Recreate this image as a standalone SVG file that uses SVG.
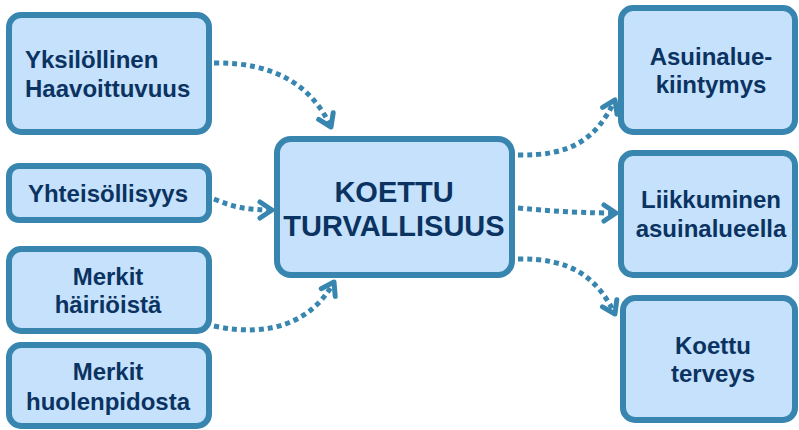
<svg xmlns="http://www.w3.org/2000/svg" width="799" height="430" viewBox="0 0 799 430">
<defs>
<style>
.box{fill:#c5e1fb;stroke:#3886b0;stroke-width:6}
.t{font-family:"Liberation Sans",Arial,sans-serif;font-weight:bold;font-size:24px;fill:#0b3362;text-anchor:middle}
.big{font-size:29px}
.c{fill:none;stroke:#3886b0;stroke-width:5;stroke-dasharray:5 4}
</style>
<marker id="ah" viewBox="0 0 12 12" refX="10" refY="6" markerWidth="12" markerHeight="12" markerUnits="userSpaceOnUse" orient="auto" overflow="visible">
<path d="M-2,-2 L10,6 L-2,14" fill="none" stroke="#3886b0" stroke-width="5" stroke-linecap="round" stroke-linejoin="round"/>
</marker>
</defs>
<rect width="799" height="430" fill="#ffffff"/>
<g id="connectors">
<path class="c" d="M214,63 C275,62 312,86 331,127" marker-end="url(#ah)"/>
<path class="c" d="M214,199 C235,208 250,210 272,210" marker-end="url(#ah)"/>
<path class="c" d="M214,326 C270,338 312,322 334,282" marker-end="url(#ah)"/>
<path class="c" d="M518,155 C570,156 596,140 615,100" marker-end="url(#ah)"/>
<path class="c" d="M518,208 C560,212 590,213 616,213" marker-end="url(#ah)"/>
<path class="c" d="M518,259 C572,258 597,278 615,314" marker-end="url(#ah)"/>
</g>
<g id="n1"><rect class="box" x="9" y="15" width="200" height="117" rx="12"/>
<text class="t" x="25" y="68" style="text-anchor:start">Yksilöllinen</text>
<text class="t" x="25" y="97" style="text-anchor:start">Haavoittuvuus</text></g>
<g id="n2"><rect class="box" x="9" y="166" width="200" height="54" rx="10"/>
<text class="t" x="108" y="202">Yhteisöllisyys</text></g>
<g id="n3"><rect class="box" x="9" y="249" width="200" height="82" rx="12"/>
<text class="t" x="108" y="285">Merkit</text>
<text class="t" x="108" y="313">häiriöistä</text></g>
<g id="n4"><rect class="box" x="9" y="345" width="200" height="81" rx="12"/>
<text class="t" x="108" y="380">Merkit</text>
<text class="t" x="108" y="410">huolenpidosta</text></g>
<g id="center"><rect class="box" x="277" y="139" width="235" height="136" rx="14"/>
<text class="t big" x="394" y="202">KOETTU</text>
<text class="t big" x="394" y="236">TURVALLISUUS</text></g>
<g id="r1"><rect class="box" x="621" y="8" width="174" height="124" rx="12"/>
<text class="t" x="711" y="65">Asuinalue-</text>
<text class="t" x="711" y="93">kiintymys</text></g>
<g id="r2"><rect class="box" x="621" y="153" width="174" height="122" rx="12"/>
<text class="t" x="711" y="208">Liikkuminen</text>
<text class="t" x="711" y="237">asuinalueella</text></g>
<g id="r3"><rect class="box" x="623" y="298" width="172" height="122" rx="12"/>
<text class="t" x="713" y="354">Koettu</text>
<text class="t" x="713" y="382">terveys</text></g>
</svg>
